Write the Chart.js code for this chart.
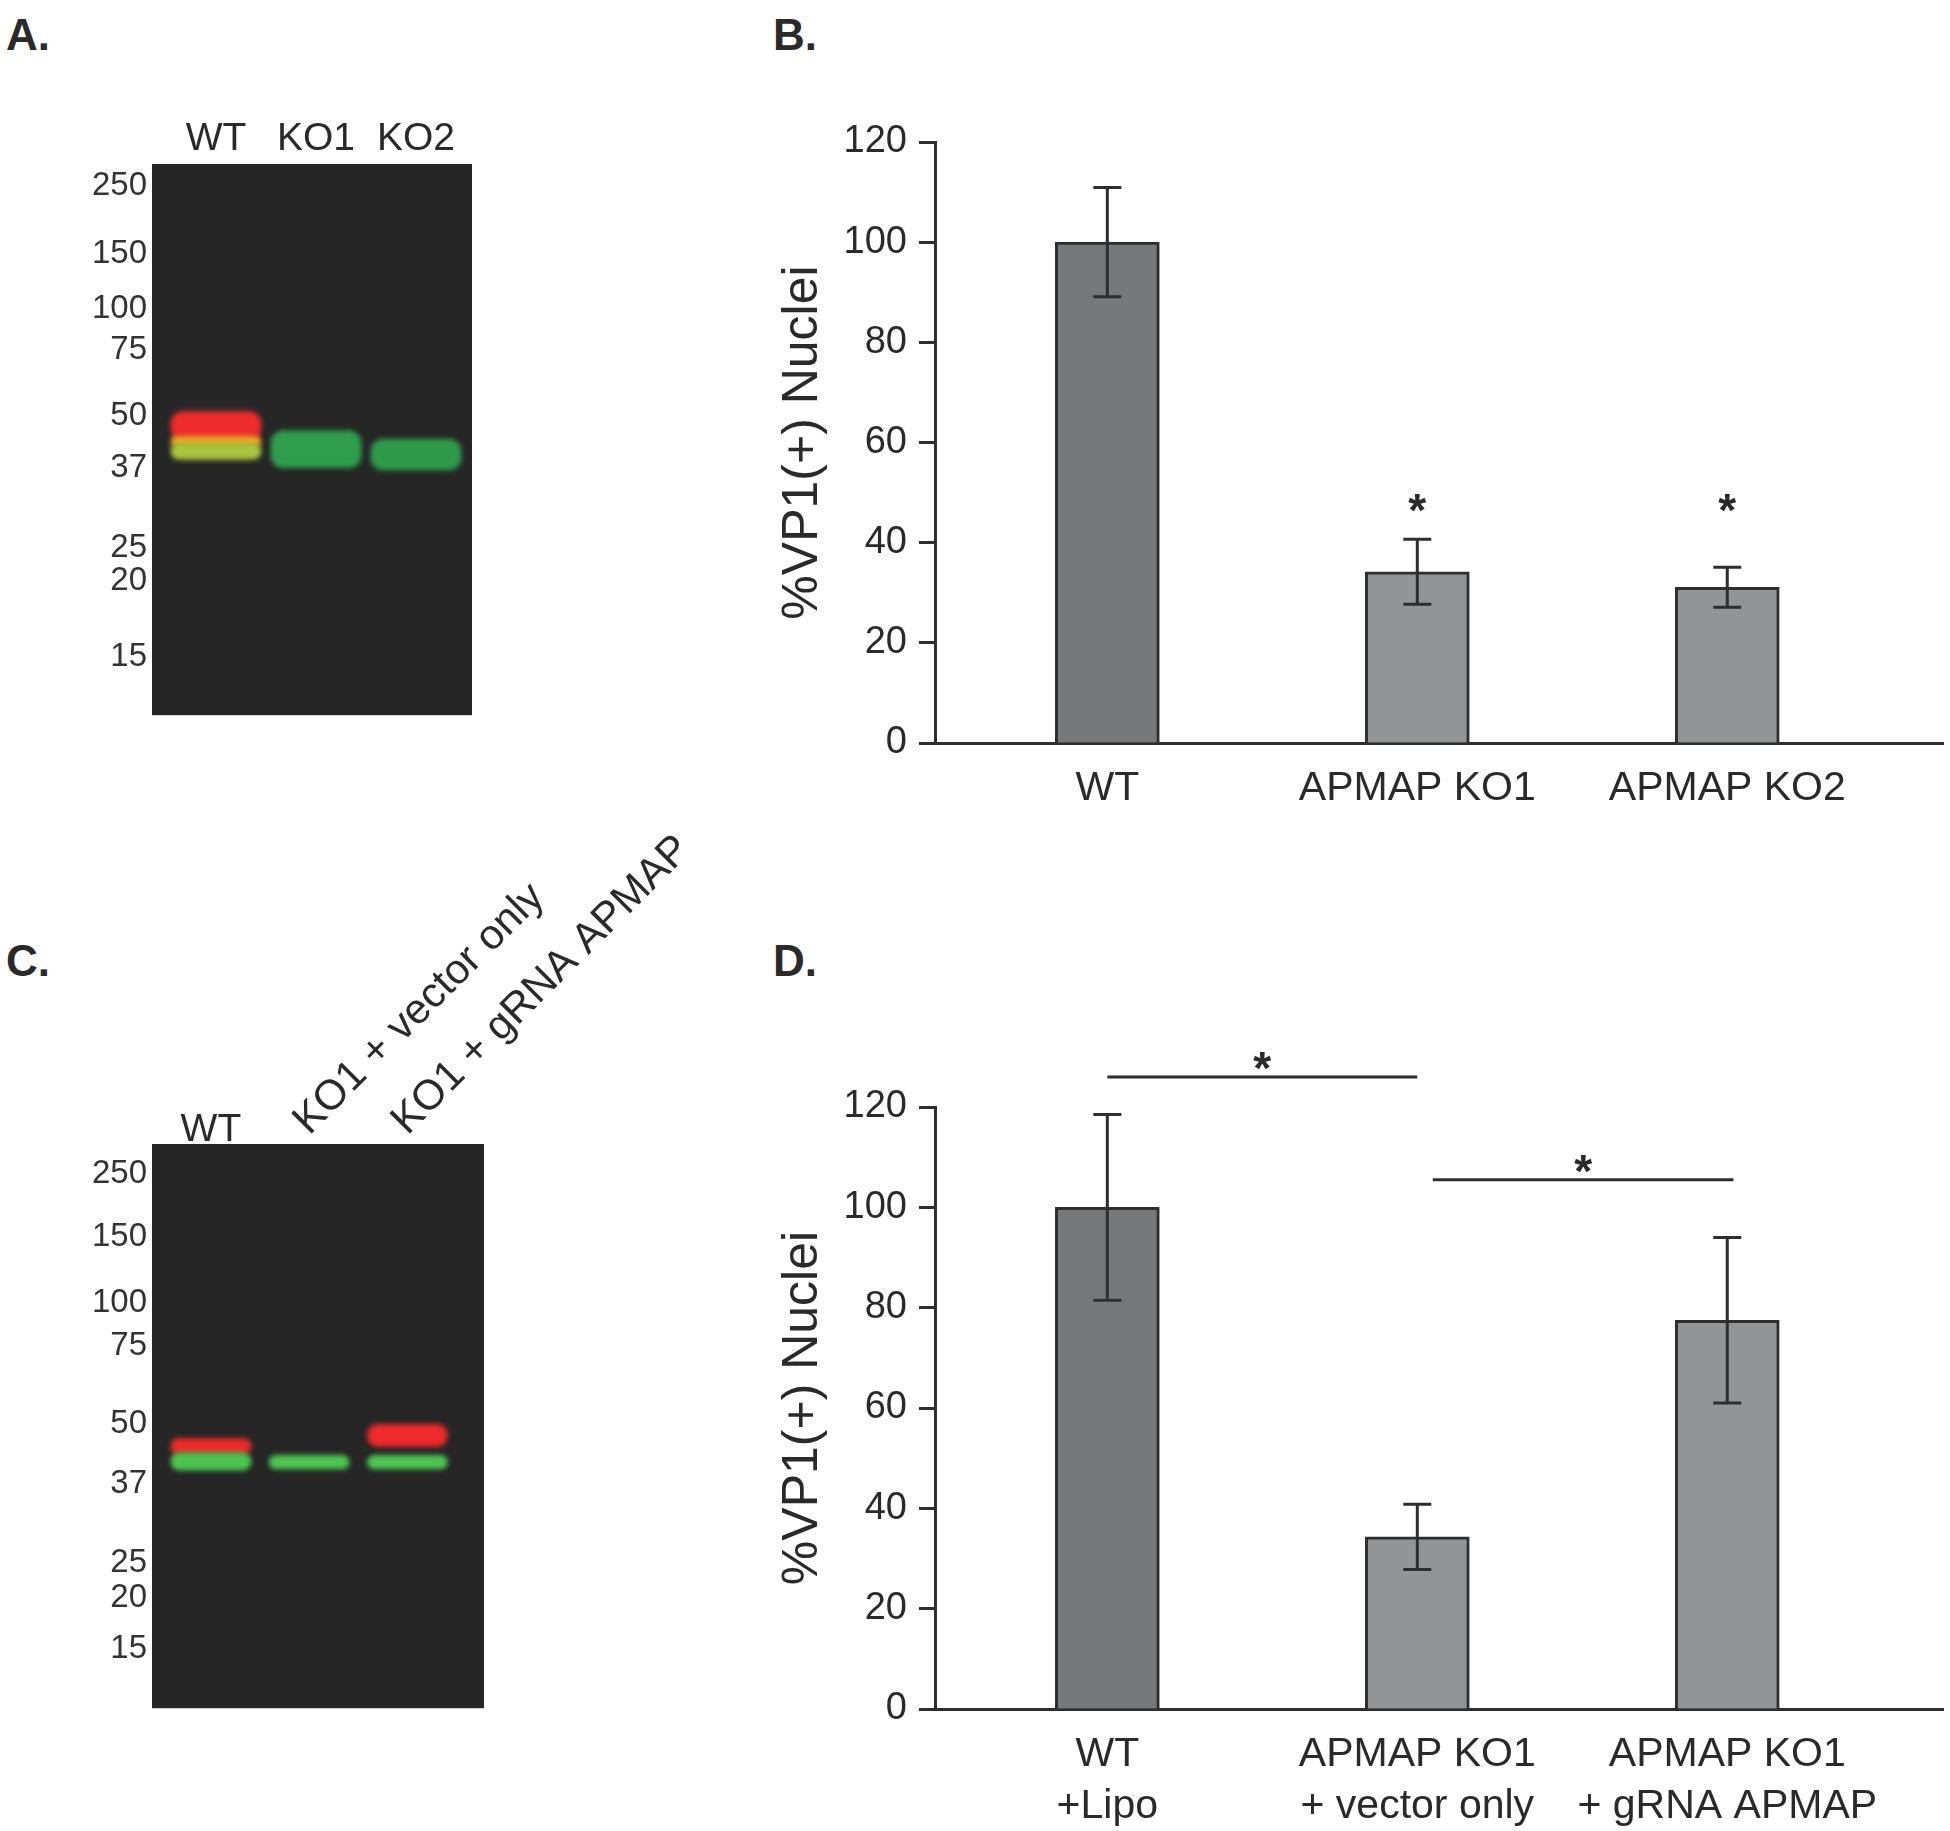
<!DOCTYPE html>
<html>
<head>
<meta charset="utf-8">
<script src="https://cdn.jsdelivr.net/npm/chart.js@4/dist/chart.umd.min.js"></script>
<style>
  body { margin: 0; background: #fff; width: 1950px; height: 1831px; position: relative; overflow: hidden; }
  .box { position: absolute; }
  .panel { position: absolute; font-family: "Liberation Sans", Arial, sans-serif; font-weight: bold; font-size: 44px; line-height: 1; color: #2a2a2a; }
</style>
</head>
<body>
<div class="panel" style="left:6px;top:13px">A.</div>
<div class="panel" style="left:773px;top:13px">B.</div>
<div class="panel" style="left:6px;top:939px">C.</div>
<div class="panel" style="left:773px;top:939px">D.</div>

<div class="box" style="left:60px;top:100px"><canvas id="gelA" width="420" height="640"></canvas></div>
<div class="box" style="left:740px;top:100px"><canvas id="barB" width="1210" height="730"></canvas></div>
<div class="box" style="left:60px;top:820px"><canvas id="gelC" width="640" height="913"></canvas></div>
<div class="box" style="left:740px;top:1020px"><canvas id="barD" width="1210" height="811"></canvas></div>

<script>
// ---- data ----
// molecular weight markers (kDa) and their migration, % of gel height from the top
const mwLabels = ['250', '150', '100', '75', '50', '37', '25', '20', '15'];
const mwPosA = [4.0, 16.4, 26.2, 33.8, 45.7, 55.1, 69.7, 75.6, 89.5];
const mwPosC = [5.3, 16.5, 28.1, 35.7, 49.6, 60.3, 74.3, 80.5, 89.5];

const lanesA = ['WT', 'KO1', 'KO2'];
const lanesC = ['WT', 'KO1 + vector only', 'KO1 + gRNA APMAP'];

// band extents [top, bottom] in % migration, one entry per lane (null = no band)
const redA    = [[44.9, 50.2], null, null];
const orangeA = [[49.4, 51.2], null, null];
const greenA  = [[50.6, 53.6], [48.4, 55.1], [49.9, 55.5]];
const redC    = [[52.2, 55.0], null, [49.7, 53.6]];
const greenC  = [[54.7, 57.8], [55.2, 57.6], [55.2, 57.6]];

// panel B
const catsB = [['WT'], ['APMAP KO1'], ['APMAP KO2']];
const valsB = [100, 34.2, 31.1];
const errB  = [10.9, 6.5, 4.0];
const starsB = [null, 48.5, 48.5];

// panel D
const catsD = [['WT', '+Lipo'], ['APMAP KO1', '+ vector only'], ['APMAP KO1', '+ gRNA APMAP']];
const valsD = [100, 34.3, 77.5];
const errD  = [18.5, 6.5, 16.5];
const sigFrom = [0, 1.05];
const sigTo   = [1, 2.02];
const sigY    = [126, 105.5];

const yTicks = [0, 20, 40, 60, 80, 100, 120];

// ---- styling ----
const FONT = '"Liberation Sans", Arial, sans-serif';
const INK = '#2a2a2a';
const LINE = '#2e2e2e';

const toPoints = rows => rows.map((r, i) => ({ x: i, y: r })).filter(d => d.y);

const gelPaint = {
  id: 'gelPaint',
  beforeDatasetsDraw(chart) {
    const { ctx, chartArea: a } = chart;
    ctx.save();
    ctx.fillStyle = '#262626';
    ctx.fillRect(a.left, a.top, a.right - a.left, a.bottom - a.top);
    ctx.filter = 'blur(2.5px)';
  },
  afterDatasetsDraw(chart) {
    chart.ctx.restore();
  }
};

function gelChart(id, lanes, mwPos, bands, xMin, xMax, thick, pad, topLabels, extraPlugins) {
  return new Chart(document.getElementById(id), {
    type: 'bar',
    data: {
      datasets: bands.map(b => ({
        data: toPoints(b.rows),
        backgroundColor: b.color,
        barThickness: thick,
        borderRadius: 12,
        borderSkipped: false,
        grouped: false
      }))
    },
    options: {
      responsive: false,
      animation: false,
      layout: { padding: pad },
      plugins: { legend: { display: false }, tooltip: { enabled: false } },
      scales: {
        x: {
          type: 'linear', position: 'top', min: xMin, max: xMax, offset: false,
          display: topLabels,
          grid: { display: false, drawTicks: false, offset: false },
          border: { display: false },
          afterBuildTicks: s => { s.ticks = lanes.map((l, i) => ({ value: i })); },
          afterFit: s => { s.height = topLabels ? 64 : 0; },
          ticks: { autoSkip: false, maxRotation: 0, padding: 1, color: INK,
                   font: { family: FONT, size: 39 }, callback: v => lanes[v] }
        },
        y: {
          min: 0, max: 100, reverse: true,
          grid: { display: false, drawTicks: false },
          border: { display: false },
          afterBuildTicks: s => { s.ticks = mwPos.map(v => ({ value: v })); },
          afterFit: s => { s.width = 92; },
          ticks: { autoSkip: false, padding: 5, color: '#333',
                   font: { family: FONT, size: 33 },
                   callback: (v, i) => mwLabels[i] }
        }
      }
    },
    plugins: [gelPaint].concat(extraPlugins || [])
  });
}

gelChart('gelA', lanesA, mwPosA, [
  { rows: greenA, color: ['#a9c53c', '#2f9e4c', '#2f9a4a'] },
  { rows: orangeA, color: '#f0a324' },
  { rows: redA, color: '#ef2b2b' }
], -0.64, 2.56, 90, { top: 0, right: 8, bottom: 20, left: 0 }, true);

// lane labels of gel C: first one flat, the others tilted
const laneLabelsC = {
  id: 'laneLabelsC',
  afterDraw(chart) {
    const { ctx, chartArea: a, scales: { x } } = chart;
    ctx.save();
    ctx.fillStyle = INK;
    lanesC.forEach((l, i) => {
      const px = x.getPixelForValue(i);
      if (i === 0) {
        ctx.font = '39px ' + FONT;
        ctx.textAlign = 'center';
        ctx.textBaseline = 'alphabetic';
        ctx.fillText(l, px, a.top - 3);
      } else {
        ctx.save();
        ctx.font = '42px ' + FONT;
        ctx.translate(px, a.top - 8);
        ctx.rotate(-Math.PI / 4);
        ctx.textAlign = 'left';
        ctx.textBaseline = 'alphabetic';
        ctx.fillText(l, 0, 0);
        ctx.restore();
      }
    });
    ctx.restore();
  }
};

gelChart('gelC', lanesC, mwPosC, [
  { rows: greenC, color: '#4cc44f' },
  { rows: redC, color: '#ee2a2a' }
], -0.60, 2.78, 80, { top: 324, right: 216, bottom: 14, left: 0 }, false, [laneLabelsC]);

// ---- bar charts ----
function barChart(id, cats, vals, errs, padTop, xH, extra) {
  const marks = {
    id: 'marks',
    afterDraw(chart) {
      const { ctx, scales: { x, y } } = chart;
      ctx.save();
      ctx.strokeStyle = LINE;
      ctx.lineWidth = 3;
      vals.forEach((v, i) => {
        const px = x.getPixelForValue(i);
        const t = y.getPixelForValue(v + errs[i]);
        const b = y.getPixelForValue(v - errs[i]);
        ctx.beginPath();
        ctx.moveTo(px, t); ctx.lineTo(px, b);
        ctx.moveTo(px - 14, t); ctx.lineTo(px + 14, t);
        ctx.moveTo(px - 14, b); ctx.lineTo(px + 14, b);
        ctx.stroke();
      });
      ctx.fillStyle = INK;
      ctx.font = 'bold 46px ' + FONT;
      ctx.textAlign = 'center';
      ctx.textBaseline = 'alphabetic';
      const star = (px, py) => ctx.fillText('*', px, py + 26);
      extra(ctx, x, y, star);
      ctx.restore();
    }
  };
  return new Chart(document.getElementById(id), {
    type: 'bar',
    data: {
      datasets: [{
        data: vals.map((v, i) => ({ x: i, y: v })),
        backgroundColor: ['#77787a', '#939496', '#939496'],
        borderColor: LINE,
        borderWidth: 3,
        barThickness: 104
      }]
    },
    options: {
      responsive: false,
      animation: false,
      layout: { padding: { top: padTop, right: 7, bottom: 0, left: 0 } },
      plugins: { legend: { display: false }, tooltip: { enabled: false } },
      scales: {
        x: {
          type: 'linear', min: -0.556, max: 2.696, offset: false,
          grid: { display: false, offset: false },
          border: { display: true, width: 3, color: LINE },
          afterBuildTicks: s => { s.ticks = cats.map((c, i) => ({ value: i })); },
          afterFit: s => { s.height = xH; },
          ticks: { autoSkip: false, maxRotation: 0, padding: 11, color: INK,
                   font: { family: FONT, size: 41, lineHeight: 1.28 },
                   callback: v => cats[v] }
        },
        y: {
          min: 0, max: 120,
          grid: { display: true, drawOnChartArea: false, drawTicks: true,
                  tickLength: 16, tickWidth: 3, tickColor: LINE },
          border: { display: true, width: 3, color: LINE },
          afterBuildTicks: s => { s.ticks = yTicks.map(v => ({ value: v })); },
          afterFit: s => { s.width = 195; },
          ticks: { padding: 12, color: INK, font: { family: FONT, size: 38 } },
          title: { display: true, text: '%VP1(+) Nuclei', color: INK,
                   font: { family: FONT, size: 50 }, padding: { top: 33, bottom: 0 } }
        }
      }
    },
    plugins: [marks]
  });
}

barChart('barB', catsB, valsB, errB, 42, 87, (ctx, x, y, star) => {
  starsB.forEach((s, i) => { if (s !== null) star(x.getPixelForValue(i), y.getPixelForValue(s)); });
});

barChart('barD', catsD, valsD, errD, 87, 122, (ctx, x, y, star) => {
  sigY.forEach((v, k) => {
    const x0 = x.getPixelForValue(sigFrom[k]);
    const x1 = x.getPixelForValue(sigTo[k]);
    const py = y.getPixelForValue(v);
    ctx.beginPath();
    ctx.moveTo(x0, py); ctx.lineTo(x1, py);
    ctx.stroke();
    star((x0 + x1) / 2, py - 19);
  });
});
</script>
</body>
</html>
